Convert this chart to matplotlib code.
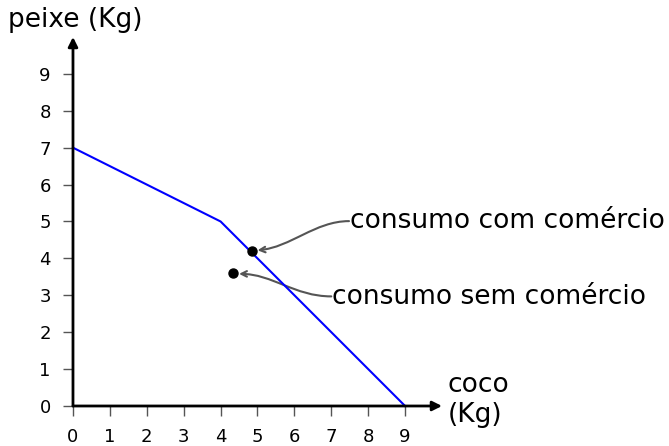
import numpy as np
import matplotlib
matplotlib.use("Agg")
import matplotlib.pyplot as plt
from matplotlib.path import Path
from matplotlib.patches import FancyArrowPatch

# fronteira de possibilidades
fronteira_x = [0, 4, 9]
fronteira_y = [7, 5, 0]

# pontos de consumo
com_comercio = (4.85, 4.2)
sem_comercio = (4.34, 3.6)

ticks = list(range(10))

fig = plt.figure(figsize=(6.69, 4.46), dpi=100)
ax = fig.add_axes([0.1091, 0.0897, 0.5516, 0.8274])
ax.set_xlim(0, 10)
ax.set_ylim(0, 10)

ax.plot(fronteira_x, fronteira_y, color='blue', lw=1.5, clip_on=False)
ax.plot(*com_comercio, 'o', color='black', ms=6.5, zorder=5)
ax.plot(*sem_comercio, 'o', color='black', ms=6.5, zorder=5)

# eixos com setas
for s in ax.spines.values():
    s.set_visible(False)
ax.annotate('', xy=(1.0, 0), xytext=(0, 0), xycoords='axes fraction',
            arrowprops=dict(arrowstyle='-|>', lw=2, color='black', mutation_scale=14, shrinkA=0, shrinkB=0))
ax.annotate('', xy=(0, 1.0), xytext=(0, 0), xycoords='axes fraction',
            arrowprops=dict(arrowstyle='-|>', lw=2, color='black', mutation_scale=14, shrinkA=0, shrinkB=0))

ax.set_xticks(ticks)
ax.set_yticks(ticks)
ax.tick_params(direction='out', length=7, width=1, color='#555555', pad=9, labelsize=13)

# setas curvas das anotacoes
def seta(inicio, fim, c1, c2):
    p = Path([inicio, c1, c2, fim], [Path.MOVETO, Path.CURVE4, Path.CURVE4, Path.CURVE4])
    ax.add_patch(FancyArrowPatch(path=p, arrowstyle='->', color='#555555', lw=1.5,
                                 mutation_scale=10, clip_on=False))

ax.text(7.5, 5.0, 'consumo com comércio', fontsize=19, va='center', ha='left', clip_on=False)
seta((7.48, 5.01), (5.0, 4.22), (6.56, 5.01), (5.9, 4.3))

ax.text(7.03, 2.95, 'consumo sem comércio', fontsize=19, va='center', ha='left', clip_on=False)
seta((7.0, 2.97), (4.5, 3.58), (6.0, 2.97), (5.4, 3.58))

ax.text(10.15, 0.16, 'coco\n(Kg)', fontsize=19, va='center', ha='left', clip_on=False)
fig.text(8 / 669, 1 - 20 / 446, 'peixe (Kg)', fontsize=19, va='center', ha='left')

fig.savefig('out.png', dpi=100)
